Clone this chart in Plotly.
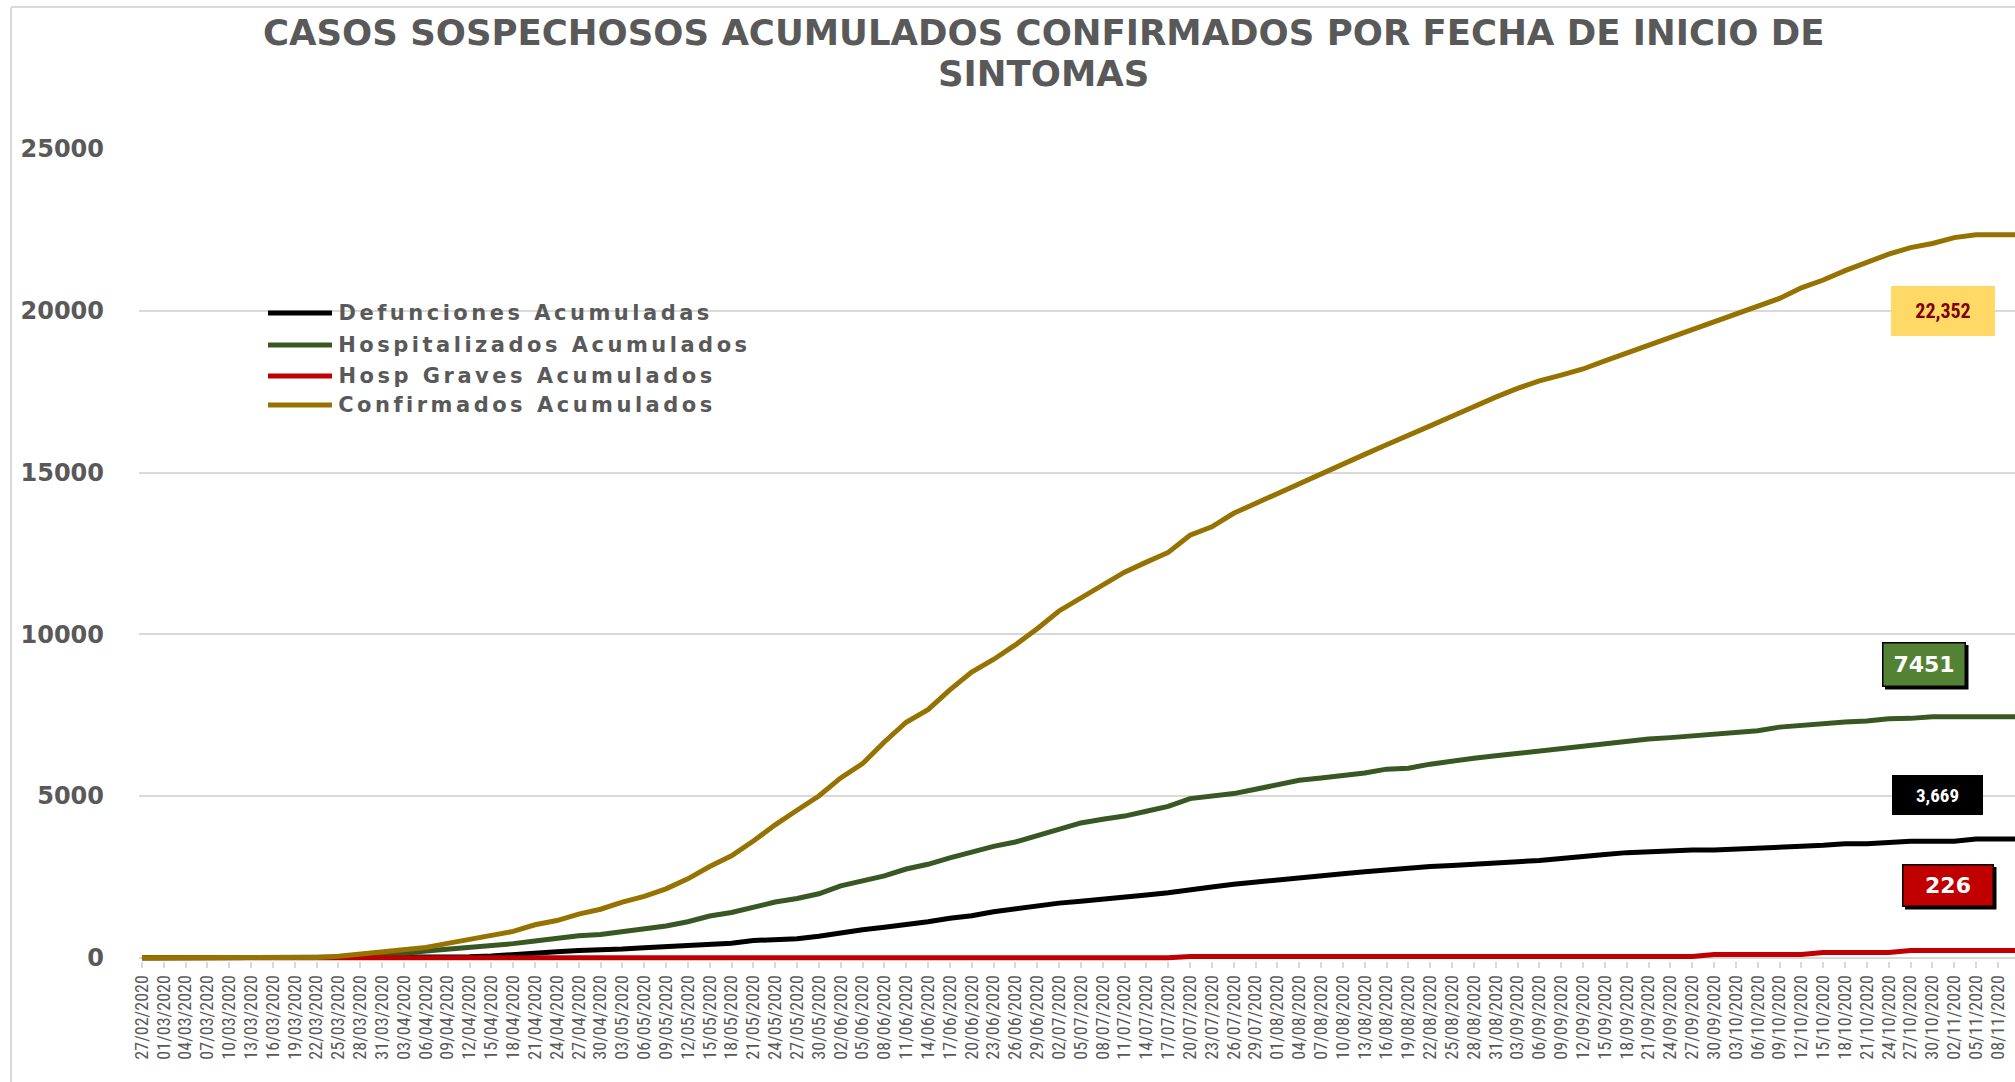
import plotly.graph_objects as go
import pandas as pd

# ---------------- data (one value every 3 days) ----------------
fecha_inicio = "2020-02-27"
paso_dias = 3

defunciones = [0, 0, 0, 0, 0, 0, 0, 0, 0, 0, 0, 0, 0, 0, 15, 30, 55, 110, 150, 185,
               225, 240, 270, 310, 345, 375, 415, 450, 533, 556, 589, 667, 778, 867, 944, 1022,
               1111, 1222, 1300, 1422, 1522, 1611, 1689, 1744, 1800, 1850, 1940, 2010, 2110,
               2190, 2270, 2340, 2420, 2470, 2540, 2600, 2660, 2720, 2770, 2820, 2850, 2900,
               2940, 2970, 3010, 3060, 3120, 3190, 3250, 3280, 3280, 3330, 3330, 3365, 3410,
               3445, 3445, 3475, 3525, 3525, 3575, 3605, 3605, 3605, 3669, 3669, 3669]

hospitalizados = [0, 0, 0, 0, 0, 0, 0, 0, 0, 10, 40, 80, 135, 208, 260, 312, 365, 437, 521,
                  604, 677, 720, 800, 880, 980, 1115, 1290, 1400, 1578, 1722, 1833, 1978, 2222,
                  2389, 2533, 2744, 2889, 3089, 3278, 3444, 3578, 3778, 4000, 4167, 4280, 4380,
                  4530, 4680, 4920, 4985, 5075, 5210, 5330, 5485, 5560, 5640, 5710, 5830, 5860,
                  5985, 6090, 6170, 6245, 6320, 6400, 6470, 6530, 6610, 6675, 6760, 6805, 6850,
                  6900, 6965, 7015, 7130, 7190, 7220, 7290, 7320, 7385, 7400, 7451, 7451, 7451,
                  7451, 7451]

hosp_graves = [0] * 48 + [40] * 24 + [100] * 5 + [160] * 4 + [226] * 6

confirmados = [0, 0, 0, 0, 0, 0, 0, 0, 10, 50, 120, 185, 255, 315, 445, 580, 680, 815, 1020,
               1150, 1350, 1500, 1720, 1900, 2130, 2440, 2820, 3150, 3610, 4110, 4560, 5000,
               5560, 6000, 6670, 7280, 7670, 8280, 8830, 9220, 9670, 10170, 10720, 11110, 11500,
               11920, 12230, 12530, 13060, 13320, 13740, 14045, 14380, 14680, 14985, 15290,
               15560, 15860, 16170, 16440, 16740, 17045, 17330, 17600, 17830, 18010, 18200,
               18450, 18690, 18930, 19170, 19420, 19660, 19900, 20170, 20380, 20710, 20950,
               21240, 21510, 21750, 21950, 22080, 22260, 22352, 22352, 22352]

nombres = ["Defunciones Acumuladas", "Hospitalizados Acumulados",
           "Hosp Graves Acumulados", "Confirmados Acumulados"]
series = [defunciones, hospitalizados, hosp_graves, confirmados]
colores = ["#000000", "#385723", "#C00000", "#967300"]

titulo_lineas = ["CASOS SOSPECHOSOS ACUMULADOS CONFIRMADOS POR FECHA DE INICIO DE",
                 "SINTOMAS"]
y_ticks = [0, 5000, 10000, 15000, 20000, 25000]

fechas = pd.date_range(fecha_inicio, periods=len(confirmados), freq=f"{paso_dias}D")

# ---------------- geometry ----------------
W, H = 2015, 1082
ML, MR, MT, MB = 139, 0, 149, 121
PW, PH = W - ML - MR, H - MT - MB


def xp(px):
    return (px - ML) / PW


def yp(py):
    return (H - MB - py) / PH


t0 = pd.Timestamp(fecha_inicio)
x_range = [(t0 - pd.Timedelta(days=0.41)).strftime("%Y-%m-%d %H:%M:%S"),
           (t0 + pd.Timedelta(days=257.35)).strftime("%Y-%m-%d %H:%M:%S")]

GRAY = "#595959"
GRID = "#d9d9d9"
WIDE = "DejaVu Sans"
NARROW = "Liberation Sans Narrow, Roboto Condensed, Roboto, sans-serif"
LEG_SPACING = 3.5

fig = go.Figure()
for nombre, valores, color in zip(nombres, series, colores):
    fig.add_trace(go.Scatter(x=fechas, y=valores, mode="lines", name=nombre,
                             line=dict(color=color, width=5), showlegend=False,
                             hoverinfo="x+y+name"))

shapes = []
annotations = []

# chart frame (cropped on the right and bottom in the reference)
shapes.append(dict(type="line", xref="paper", yref="paper", x0=xp(11), x1=xp(11),
                   y0=yp(7), y1=yp(H + 5), line=dict(color=GRID, width=2), layer="below"))
shapes.append(dict(type="line", xref="paper", yref="paper", x0=xp(11), x1=xp(W + 5),
                   y0=yp(7), y1=yp(7), line=dict(color=GRID, width=2), layer="below"))

# title (two lines)
for linea, cy in zip(titulo_lineas, [32, 73]):
    annotations.append(dict(xref="paper", yref="paper", x=xp(1043), y=yp(cy),
                            xanchor="center", yanchor="middle", showarrow=False, text=linea,
                            font=dict(family=WIDE, size=35.5, color=GRAY, weight="bold")))

# manual legend (long line samples like the original)
legend_rows = [313, 345, 376, 405]
for nombre, color, ry in zip(nombres, colores, legend_rows):
    shapes.append(dict(type="line", xref="paper", yref="paper", x0=xp(268), x1=xp(332),
                       y0=yp(ry), y1=yp(ry), line=dict(color=color, width=5)))
    annotations.append(dict(xref="paper", yref="paper",
                            x=xp(336 + len(nombre) * LEG_SPACING / 2), y=yp(ry),
                            xanchor="left", yanchor="middle", showarrow=False,
                            text=nombre,
                            font=dict(family=WIDE, size=21, color=GRAY, weight="bold")))

# value boxes
boxes = [
    # text, x0, x1, y0, y1, bg, fg, font family, size, border+shadow
    (f"{confirmados[-1]:,}", 1891, 1995, 286, 336, "#FFD966", "#7F0000", NARROW, 20, False),
    (f"{hospitalizados[-1]}", 1882, 1966, 642, 687, "#548235", "#FFFFFF", WIDE, 22, True),
    (f"{defunciones[-1]:,}", 1892, 1983, 775, 815, "#000000", "#FFFFFF", NARROW, 19, False),
    (f"{hosp_graves[-1]}", 1902, 1994, 864, 907, "#C00000", "#FFFFFF", WIDE, 22, True),
]
for txt, x0, x1, y0, y1, bg, fg, fam, size, border in boxes:
    bw = 1.5 if border else 0
    if border:
        shapes.append(dict(type="rect", xref="paper", yref="paper",
                           x0=xp(x0 + 3), x1=xp(x1 + 2.5), y0=yp(y1 + 2.5), y1=yp(y0 + 3),
                           fillcolor="#000000", line=dict(width=0), layer="above"))
    annotations.append(dict(xref="paper", yref="paper", x=xp((x0 + x1) / 2), y=yp((y0 + y1) / 2),
                            xanchor="center", yanchor="middle", showarrow=False,
                            text=txt, bgcolor=bg, bordercolor="#000000", borderwidth=bw,
                            borderpad=0, width=x1 - x0 - 2 * bw, height=y1 - y0 - 2 * bw,
                            font=dict(family=fam, size=size, color=fg, weight="bold")))

fig.update_layout(
    width=W, height=H, autosize=False,
    margin=dict(l=ML, r=MR, t=MT, b=MB, pad=0, autoexpand=False),
    paper_bgcolor="white", plot_bgcolor="white",
    showlegend=False,
    xaxis=dict(type="date", range=x_range, tickformat="%d/%m/%Y", tick0=fecha_inicio,
               dtick=paso_dias * 86400000, tickangle=-90, showgrid=False, showline=False,
               zeroline=False, ticks="outside", ticklen=6, tickwidth=1.5, tickcolor=GRID,
               automargin=False,
               tickfont=dict(family=NARROW, size=18, color=GRAY)),
    yaxis=dict(range=[-100, 25000], tickvals=y_ticks, tickformat="d", showgrid=True,
               gridcolor=GRID, gridwidth=1.5, zeroline=True, zerolinecolor=GRID,
               zerolinewidth=1.5, showline=False, ticks="", ticklabelstandoff=34,
               automargin=False,
               tickfont=dict(family=WIDE, size=24, color=GRAY, weight="bold")),
    shapes=shapes,
    annotations=annotations,
)

post = """
document.body.style.margin = '0px';
document.querySelectorAll('.annotation-text').forEach(function(t){
  if (t.textContent.indexOf('Acumulad') >= 0) { t.setAttribute('letter-spacing', '%spx'); }
});
""" % LEG_SPACING

fig.write_html("out.html", post_script=post, config={"displayModeBar": False})
